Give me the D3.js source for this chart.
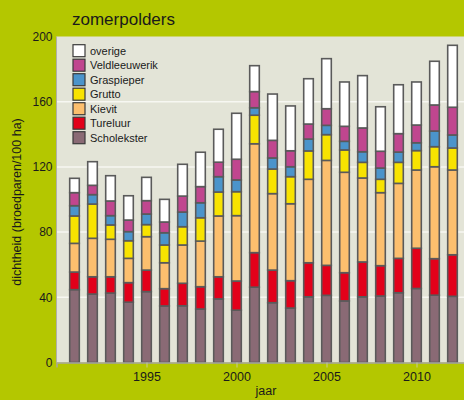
<!DOCTYPE html>
<html>
<head>
<meta charset="utf-8">
<script src="https://cdn.jsdelivr.net/npm/d3@7"></script>
<style>
    body { margin: 0; background: #b4c700; }
    text { font-family: "Liberation Sans", Arial, sans-serif; fill: #1a1a1a; }
</style>
</head>
<body>
<div id="chart-container"></div>
<script>
(function () {
    'use strict';

    // data (dichtheid, broedparen/100 ha)
    var years = [1991, 1992, 1993, 1994, 1995, 1996, 1997, 1998, 1999, 2000, 2001,
        2002, 2003, 2004, 2005, 2006, 2007, 2008, 2009, 2010, 2011, 2012];
    var species = ['Scholekster', 'Tureluur', 'Kievit', 'Grutto', 'Graspieper', 'Veldleeuwerik', 'overige'];
    var scholekster = [44.7, 42.0, 42.6, 37.0, 43.5, 34.7, 34.8, 32.8, 39.0, 32.1, 46.2,
        36.7, 33.4, 40.3, 41.2, 37.8, 40.3, 40.8, 42.8, 45.4, 41.3, 40.6];
    var tureluur = [10.8, 10.6, 10.0, 12.0, 13.2, 10.6, 13.8, 13.7, 13.6, 17.9, 21.2,
        20.0, 16.8, 20.9, 18.4, 17.3, 21.4, 18.6, 21.1, 24.7, 22.4, 25.5];
    var kievit = [17.6, 23.6, 23.0, 14.9, 20.5, 15.9, 23.5, 28.0, 37.3, 40.1, 66.8,
        46.9, 47.2, 51.2, 64.4, 61.6, 51.5, 44.8, 46.0, 48.0, 56.4, 52.0];
    var grutto = [16.8, 21.0, 8.8, 10.8, 7.4, 10.9, 11.2, 14.3, 14.7, 14.7, 17.5,
        15.1, 16.6, 17.4, 15.8, 13.7, 9.6, 8.2, 12.9, 11.9, 12.3, 13.5];
    var graspieper = [6.3, 5.8, 5.7, 5.6, 6.5, 7.5, 9.0, 9.2, 9.4, 7.2, 4.6,
        6.8, 6.1, 7.3, 5.7, 5.3, 6.5, 6.9, 6.3, 4.8, 9.6, 8.0];
    var veldleeuwerik = [8.0, 5.7, 9.0, 7.1, 8.2, 6.6, 9.8, 9.9, 8.9, 12.7, 9.9,
        10.8, 9.8, 9.2, 10.2, 9.2, 14.6, 10.3, 11.3, 10.9, 16.0, 17.0];
    var overige = [8.8, 14.5, 15.5, 14.9, 14.3, 13.9, 19.5, 21.1, 20.2, 28.2, 15.9,
        28.4, 27.5, 27.8, 30.7, 27.2, 32.1, 27.3, 30.0, 26.4, 26.8, 38.0];
    var yTicks = [0, 40, 80, 120, 160, 200];
    var xTicks = [1995, 2000, 2005, 2010];

    var seriesValues = [scholekster, tureluur, kievit, grutto, graspieper, veldleeuwerik, overige];
    var colors = ['#8a6a75', '#e2001a', '#fcbf6e', '#f8e300', '#4b94cb', '#c0468f', '#ffffff'];

    var width = 464;
    var height = 400;

    var rows = years.map(function (year, i) {
        var row = { year: year };
        species.forEach(function (s, j) {
            row[s] = seriesValues[j][i];
        });
        return row;
    });

    var stacked = d3.stack().keys(species)(rows);

    var x = d3.scaleLinear()
        .domain([1990, 2013])
        .range([56.5, 470.5]);
    var y = d3.scaleLinear()
        .domain([0, 200])
        .range([362.5, 36.5]);

    var color = d3.scaleOrdinal()
        .domain(species)
        .range(colors);

    var svg = d3.select('#chart-container')
        .append('svg')
        .attr('width', width)
        .attr('height', height)
        .style('display', 'block');

    svg.append('rect')
        .attr('width', width)
        .attr('height', height)
        .attr('fill', '#b4c700');

    // plot area
    svg.append('rect')
        .attr('x', x(1990))
        .attr('y', y(200))
        .attr('width', x(2013) - x(1990))
        .attr('height', y(0) - y(200))
        .attr('fill', '#e3e4d7');

    svg.append('g')
        .selectAll('line')
        .data(yTicks.filter(function (d) { return d > 0 && d < 200; }))
        .enter()
        .append('line')
        .attr('x1', x(1990))
        .attr('x2', x(2013))
        .attr('y1', function (d) { return y(d); })
        .attr('y2', function (d) { return y(d); })
        .style('stroke', '#f7f7f2')
        .style('stroke-width', '1.5');

    svg.append('line')
        .attr('x1', x(1990))
        .attr('x2', x(1990))
        .attr('y1', y(200))
        .attr('y2', y(0))
        .style('stroke', '#b0b0a8')
        .style('stroke-width', '1');

    // bars
    svg.append('g')
        .attr('class', 'bars')
        .selectAll('g')
        .data(stacked)
        .enter()
        .append('g')
        .attr('fill', function (d) { return color(d.key); })
        .selectAll('rect')
        .data(function (d) { return d; })
        .enter()
        .append('rect')
        .attr('x', function (d) { return x(d.data.year) - 4.8; })
        .attr('width', 9.6)
        .attr('y', function (d) { return y(d[1]); })
        .attr('height', function (d) { return y(d[0]) - y(d[1]); })
        .style('stroke', '#5a5a5a')
        .style('stroke-width', '1.6');

    // axes
    var yAxis = svg.append('g')
        .attr('transform', 'translate(' + x(1990) + ',0)')
        .call(d3.axisLeft(y).tickValues(yTicks).tickSize(0).tickPadding(4));
    yAxis.select('.domain').remove();
    yAxis.selectAll('text')
        .style('font-size', '12px')
        .style('font-family', '"Liberation Sans", Arial, sans-serif')
        .attr('fill', '#1a1a1a');

    var xAxis = svg.append('g')
        .attr('transform', 'translate(0,' + y(0) + ')')
        .call(d3.axisBottom(x).tickValues(xTicks).tickFormat(d3.format('d')).tickSize(5).tickPadding(5));
    xAxis.select('.domain')
        .style('stroke', '#a8a8a0')
        .style('stroke-width', '1.5');
    xAxis.selectAll('.tick line').style('stroke', '#c8cc9a');
    xAxis.selectAll('text')
        .style('font-size', '12.5px')
        .style('font-family', '"Liberation Sans", Arial, sans-serif')
        .attr('fill', '#1a1a1a');

    svg.append('text')
        .attr('x', 266)
        .attr('y', 395)
        .attr('text-anchor', 'middle')
        .style('font-size', '12.5px')
        .text('jaar');

    svg.append('text')
        .attr('transform', 'translate(21,202) rotate(-90)')
        .attr('text-anchor', 'middle')
        .style('font-size', '12.5px')
        .text('dichtheid (broedparen/100 ha)');

    svg.append('text')
        .attr('x', 72)
        .attr('y', 25)
        .style('font-size', '17px')
        .text('zomerpolders');

    // legend, top to bottom
    var legendKeys = species.slice().reverse();
    var legend = svg.append('g')
        .selectAll('g')
        .data(legendKeys)
        .enter()
        .append('g')
        .attr('transform', function (d, i) { return 'translate(73,' + (50.7 + i * 14.5) + ')'; });
    legend.append('rect')
        .attr('x', 0)
        .attr('y', -6)
        .attr('width', 12)
        .attr('height', 12)
        .attr('fill', function (d) { return color(d); })
        .style('stroke', '#3a3a3a')
        .style('stroke-width', '1.2');
    legend.append('text')
        .attr('x', 17)
        .attr('y', 0)
        .attr('dy', '0.35em')
        .style('font-size', '11px')
        .text(function (d) { return d; });
}());
</script>
</body>
</html>
